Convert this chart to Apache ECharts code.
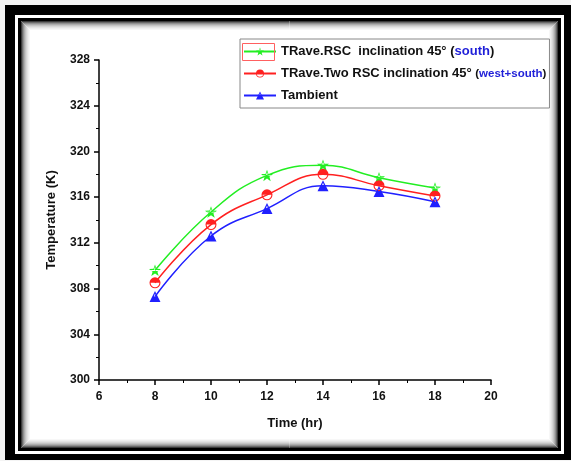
<!DOCTYPE html>
<html>
<head>
    <meta charset="utf-8">
    <title>ECharts</title>
    <script src="https://fastly.jsdelivr.net/npm/echarts@6/dist/echarts.min.js"></script>
</head>
<body style="margin:0;background:#f4f4f4;">
    <div id="main" style="width: 571px;height:461px;"></div>
    <script type="text/javascript">
        // data
        var hours = [8, 10, 12, 14, 16, 18];
        var trSouth = [309.6, 314.7, 317.9, 318.8, 317.7, 316.8];
        var trWestSouth = [308.5, 313.6, 316.2, 318.0, 317.0, 316.1];
        var tAmbient = [307.3, 312.6, 315.0, 317.0, 316.5, 315.6];
        var seriesNames = ['south', 'westsouth', 'ambient'];

        function pairs(ys) {
            return hours.map(function (h, i) { return [h, ys[i]]; });
        }

        // half-filled Origin style symbols (outline ring + filled half)
        var circleHalf = 'path://M0,10A10,10 0 1,1 20,10A10,10 0 1,1 0,10Z' +
            'M2,10A8,8 0 1,0 18,10A8,8 0 1,0 2,10Z' +
            'M0,10A10,10 0 0,1 20,10Z';
        var triHalf = 'path://M10,0L20,20L0,20Z' +
            'M10,4.5L4.8,18L15.2,18Z' +
            'M5,10L15,10L20,20L0,20Z';
        var starHalf = 'path://M10,0L12.35,6.76L19.51,6.91L13.8,11.24L15.88,18.09L10,14L4.12,18.09L6.2,11.24L0.49,6.91L7.65,6.76Z' +
            'M10,3.5L8.24,8.57L2.87,8.68L7.15,11.93L5.59,17.07L10,14L14.41,17.07L12.85,11.93L17.13,8.68L11.76,8.57Z' +
            'M15.43,10L13.8,11.24L15.88,18.09L10,14L4.12,18.09L6.2,11.24L4.57,10Z';

        var myChart = echarts.init(document.getElementById('main'));

        // black double frame with an inner shadow
        var shade = ['#3a3a3a', '#6a6a6a', '#909090', '#adadad', '#c4c4c4', '#d6d6d6', '#e4e4e4', '#efefef', '#f7f7f7'];
        var frame = [
            { type: 'rect', z: -10, shape: { x: 5, y: 5, width: 566, height: 455 }, style: { fill: '#000' } },
            { type: 'rect', z: -10, shape: { x: 15, y: 15, width: 549, height: 439 }, style: { fill: '#fff' } },
            { type: 'rect', z: -10, shape: { x: 18, y: 18, width: 543, height: 433 }, style: { fill: '#000' } },
            { type: 'rect', z: -10, shape: { x: 21, y: 21, width: 537, height: 427 }, style: { fill: '#fff' } }
        ];
        shade.forEach(function (c, i) {
            frame.push({
                type: 'rect', z: -9,
                shape: { x: 21.5 + i, y: 21.5 + i, width: 536 - 2 * i, height: 426 - 2 * i },
                style: { fill: 'transparent', stroke: c, lineWidth: 1 }
            });
        });
        // red selection box round first legend icon
        frame.push({
            type: 'rect', z: 20,
            shape: { x: 242.5, y: 43.5, width: 32, height: 17 },
            style: { fill: 'transparent', stroke: '#ff6060', lineWidth: 1 }
        });

        var axisText = { color: '#111', fontFamily: 'Liberation Sans', fontWeight: 'bold', fontSize: 12 };

        option = {
            backgroundColor: 'transparent',
            animation: false,
            graphic: frame,
            grid: { left: 99, right: 80, top: 60, bottom: 81 },
            legend: {
                orient: 'vertical',
                left: 240,
                top: 39,
                padding: [5, 3, 5, 3],
                itemGap: 7,
                itemWidth: 32,
                itemHeight: 10,
                borderColor: '#888',
                borderWidth: 1,
                backgroundColor: '#fff',
                selectedMode: false,
                data: seriesNames,
                textStyle: {
                    fontFamily: 'Liberation Sans',
                    fontSize: 13,
                    fontWeight: 'bold',
                    color: '#111',
                    lineHeight: 15,
                    rich: {
                        b: { fontFamily: 'Liberation Sans', fontSize: 13, fontWeight: 'bold', color: '#111', lineHeight: 15 },
                        sup: { fontFamily: 'Liberation Sans', fontSize: 13, fontWeight: 'bold', color: '#111', lineHeight: 15 },
                        blue: { fontFamily: 'Liberation Sans', fontSize: 13, fontWeight: 'bold', color: '#1f1fd8', lineHeight: 15 },
                        n: { fontFamily: 'Liberation Sans', fontSize: 11.5, color: '#111', lineHeight: 15 },
                        nblue: { fontFamily: 'Liberation Sans', fontSize: 11.5, color: '#1f1fd8', lineHeight: 15 }
                    }
                },
                formatter: function (name) {
                    if (name === 'south') return '{b|TRave.RSC  inclination 45}{sup|°} {b|(}{blue|south}{b|)}';
                    if (name === 'westsouth') return '{b|TRave.Two RSC inclination 45}{sup|°} {n|(}{nblue|west+south}{n|)}';
                    return '{b|Tambient}';
                }
            },
            xAxis: {
                type: 'value',
                min: 6,
                max: 20,
                interval: 2,
                name: 'Time (hr)',
                nameLocation: 'middle',
                nameGap: 37,
                nameTextStyle: { color: '#111', fontFamily: 'Liberation Sans', fontWeight: 'bold', fontSize: 13 },
                axisLine: { lineStyle: { color: '#000', width: 1.5 } },
                axisTick: { length: 5, lineStyle: { color: '#000', width: 1.5 } },
                minorTick: { show: true, splitNumber: 2, length: 3, lineStyle: { color: '#000', width: 1 } },
                splitLine: { show: false },
                axisLabel: Object.assign({ margin: 11 }, axisText)
            },
            yAxis: {
                type: 'value',
                min: 300,
                max: 328,
                interval: 4,
                name: 'Temperature (K)',
                nameLocation: 'middle',
                nameGap: 41,
                nameTextStyle: { color: '#111', fontFamily: 'Liberation Sans', fontWeight: 'bold', fontSize: 13 },
                axisLine: { show: true, lineStyle: { color: '#000', width: 1.5 } },
                axisTick: { show: true, length: 5, lineStyle: { color: '#000', width: 1.5 } },
                minorTick: { show: true, splitNumber: 2, length: 3, lineStyle: { color: '#000', width: 1 } },
                splitLine: { show: false },
                axisLabel: Object.assign({ margin: 9 }, axisText)
            },
            series: [
                {
                    name: 'south', type: 'line', smooth: 0.45, data: pairs(trSouth),
                    symbol: starHalf, symbolSize: 12, symbolKeepAspect: true,
                    lineStyle: { color: '#22ee22', width: 1.5 },
                    itemStyle: { color: '#22ee22' }
                },
                {
                    name: 'westsouth', type: 'line', smooth: 0.45, data: pairs(trWestSouth),
                    symbol: circleHalf, symbolSize: 11, symbolKeepAspect: true,
                    lineStyle: { color: '#ff2020', width: 1.5 },
                    itemStyle: { color: '#ff2020' }
                },
                {
                    name: 'ambient', type: 'line', smooth: 0.45, data: pairs(tAmbient),
                    symbol: triHalf, symbolSize: 11, symbolKeepAspect: true,
                    lineStyle: { color: '#2020ff', width: 1.5 },
                    itemStyle: { color: '#2020ff' }
                }
            ]
        };

        myChart.setOption(option);
    </script>
</body>
</html>
